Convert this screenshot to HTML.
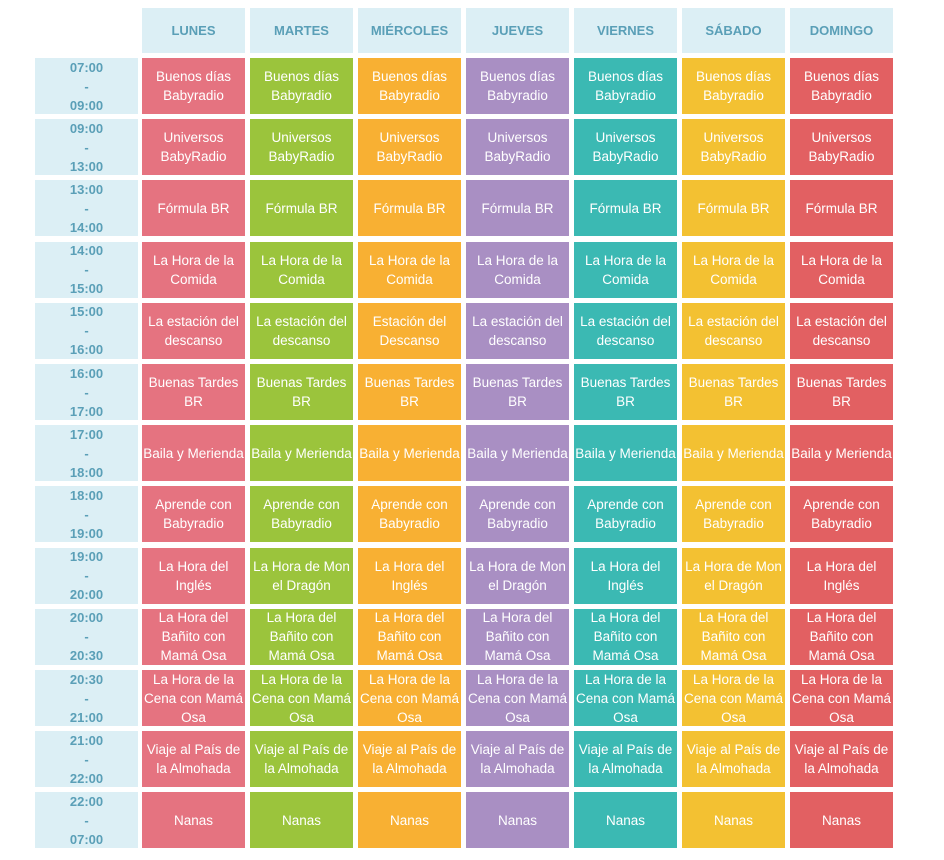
<!DOCTYPE html>
<html><head><meta charset="utf-8"><style>
body{margin:0;width:944px;height:860px;background:#fff;font-family:"Liberation Sans",sans-serif;position:relative;overflow:hidden}
.c{position:absolute;width:103px;height:56px;display:flex;align-items:center;justify-content:center;text-align:center;color:#fff;font-size:13.5px;line-height:19px;letter-spacing:0}
.h{background:#dceff5;color:#5a9fb7;font-weight:bold;font-size:13px;height:45px;top:8px}
.t{background:#dceff5;color:#5a9fb7;font-weight:bold;font-size:13px;left:35px}
</style></head><body>
<script>
const days=["LUNES","MARTES","MIÉRCOLES","JUEVES","VIERNES","SÁBADO","DOMINGO"];
const cols=["#e57380","#9bc43c","#f8b033","#a98fc3","#3bb9b3","#f3c132","#e26062"];
const times=[["07:00","09:00"],["09:00","13:00"],["13:00","14:00"],["14:00","15:00"],["15:00","16:00"],["16:00","17:00"],["17:00","18:00"],["18:00","19:00"],["19:00","20:00"],["20:00","20:30"],["20:30","21:00"],["21:00","22:00"],["22:00","07:00"]];
const A=(s)=>Array(7).fill(s);
const rows=[A("Buenos días<br>Babyradio"),A("Universos<br>BabyRadio"),A("Fórmula BR"),A("La Hora de la<br>Comida"),
["La estación del<br>descanso","La estación del<br>descanso","Estación del<br>Descanso","La estación del<br>descanso","La estación del<br>descanso","La estación del<br>descanso","La estación del<br>descanso"],
A("Buenas Tardes<br>BR"),A("Baila y Merienda"),A("Aprende con<br>Babyradio"),
["La Hora del<br>Inglés","La Hora de Mon<br>el Dragón","La Hora del<br>Inglés","La Hora de Mon<br>el Dragón","La Hora del<br>Inglés","La Hora de Mon<br>el Dragón","La Hora del<br>Inglés"],
A("La Hora del<br>Bañito con<br>Mamá Osa"),A("La Hora de la<br>Cena con Mamá<br>Osa"),A("Viaje al País de<br>la Almohada"),A("Nanas")];
let h="";
days.forEach((d,i)=>{h+=`<div class="c h" style="left:${142+108*i}px">${d}</div>`});
rows.forEach((r,j)=>{const y=58+61.2*j;
h+=`<div class="c t" style="top:${y}px">${times[j][0]}<br>-<br>${times[j][1]}</div>`;
r.forEach((s,i)=>{h+=`<div class="c" style="left:${142+108*i}px;top:${y}px;background:${cols[i]}">${s}</div>`})});
document.write(h);
</script>
</body></html>
